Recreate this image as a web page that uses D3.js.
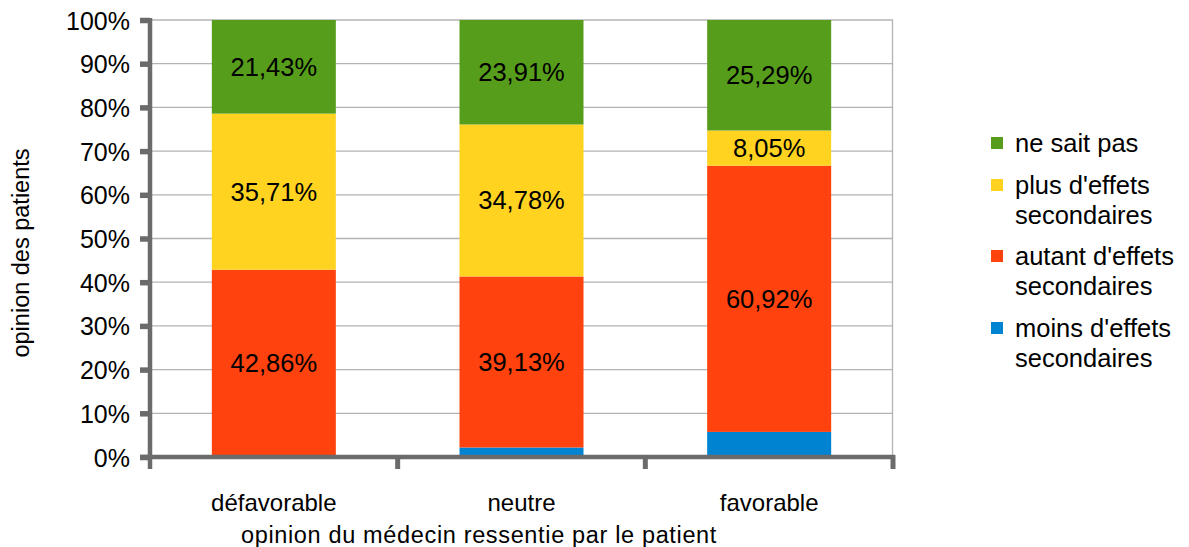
<!DOCTYPE html>
<html><head><meta charset="utf-8">
<script src="https://cdn.jsdelivr.net/npm/d3@7/dist/d3.min.js"></script>
<style>body{margin:0;background:#fff}svg{display:block;font-family:"Liberation Sans",Arial,sans-serif}</style>
</head><body><svg id="c" width="1189" height="547"></svg>
<script>
const categories = ["défavorable", "neutre", "favorable"];
const seriesNames = ["moins d'effets secondaires", "autant d'effets secondaires", "plus d'effets secondaires", "ne sait pas"];
const moins = [0, 2.18, 5.74];
const autant = [42.86, 39.13, 60.92];
const plus = [35.71, 34.78, 8.05];
const nsp = [21.43, 23.91, 25.29];
const colors = ["#0084d1", "#ff420e", "#ffd320", "#579d1c"];
const yTicks = [0,10,20,30,40,50,60,70,80,90,100];
const legendLines = [["ne sait pas"],["plus d'effets","secondaires"],["autant d'effets","secondaires"],["moins d'effets","secondaires"]];

const svg = d3.select("#c");
const x = d3.scaleBand().domain(categories).range([150, 893]).paddingInner(0).paddingOuter(0);
const y = d3.scaleLinear().domain([0, 100]).range([457, 20]);
const barW = 124;

const rows = categories.map((c, i) => ({cat: c, v: [moins[i], autant[i], plus[i], nsp[i]]}));
const stack = d3.stack().keys([0,1,2,3]).value((d, k) => d.v[k]);
const layers = stack(rows);

// grid
svg.append("g").selectAll("line").data(yTicks.filter(t => t > 0)).join("line")
  .attr("x1", 150).attr("x2", 893).attr("y1", d => y(d)).attr("y2", d => y(d))
  .attr("stroke", "#b3b3b3").attr("stroke-width", 1.3);
svg.append("line").attr("x1", 892.5).attr("x2", 892.5).attr("y1", y(100)).attr("y2", y(0))
  .attr("stroke", "#b3b3b3").attr("stroke-width", 1.3);

// bars
const g = svg.append("g");
layers.forEach((layer, k) => {
  g.selectAll(null).data(layer).join("rect")
    .attr("x", (d, i) => x(categories[i]) + x.bandwidth()/2 - barW/2)
    .attr("width", barW)
    .attr("y", d => y(d[1]))
    .attr("height", d => y(d[0]) - y(d[1]))
    .attr("fill", colors[k]);
  if (k > 0) {
    g.selectAll(null).data(layer).join("text")
      .attr("x", (d, i) => x(categories[i]) + x.bandwidth()/2)
      .attr("y", d => (y(d[0]) + y(d[1]))/2 + 9)
      .attr("text-anchor", "middle").attr("font-size", 25.5).attr("fill", "#000")
      .text(d => (d[1]-d[0]).toFixed(2).replace(".", ",") + "%");
  }
});

// axes
const axisColor = "#6b6b6b";
const yAxis = d3.axisLeft(y).tickValues(yTicks).tickFormat(d => d + "%").tickSize(10).tickPadding(10);
const ya = svg.append("g").attr("transform", "translate(150,0)").call(yAxis);
ya.select(".domain").remove();
ya.selectAll(".tick line").attr("stroke", axisColor).attr("stroke-width", 5.5).attr("x2", -10);
ya.selectAll(".tick text").attr("font-size", 25).attr("fill", "#000").attr("font-family", "Liberation Sans, Arial, sans-serif").attr("dy", "0.36em");
svg.append("line").attr("x1", 150).attr("x2", 150).attr("y1", 18).attr("y2", 469).attr("stroke", axisColor).attr("stroke-width", 4.5);

svg.append("line").attr("x1", 140).attr("x2", 895).attr("y1", 457).attr("y2", 457).attr("stroke", axisColor).attr("stroke-width", 4.5);
svg.append("g").selectAll("line").data(categories.map(c => x(c) + x.bandwidth())).join("line")
  .attr("x1", d => d).attr("x2", d => d).attr("y1", 455).attr("y2", 469)
  .attr("stroke", axisColor).attr("stroke-width", 5);
const xa = svg.append("g").attr("transform", "translate(0,457)").call(d3.axisBottom(x).tickSize(0).tickPadding(37));
xa.select(".domain").remove();
xa.selectAll(".tick text").attr("font-size", 24).attr("fill", "#000").attr("font-family", "Liberation Sans, Arial, sans-serif");

// titles
svg.append("text").attr("x", 479).attr("y", 543).attr("text-anchor", "middle").attr("font-size", 23.5).attr("letter-spacing", 0.65).text("opinion du médecin ressentie par le patient");
svg.append("text").attr("transform", "translate(29,253) rotate(-90)").attr("text-anchor", "middle").attr("font-size", 23.5).text("opinion des patients");

// legend
const legY = [143, 185, 256, 328];
const lg = svg.append("g");
legendLines.forEach((lines, i) => {
  lg.append("rect").attr("x", 991).attr("y", legY[i] - 6).attr("width", 12).attr("height", 12).attr("fill", colors[3 - i]);
  lines.forEach((t, j) => {
    lg.append("text").attr("x", 1015).attr("y", legY[i] + j * 30 + 8.5).attr("font-size", 25.5).attr("fill", "#000").text(t);
  });
});
</script></body></html>
